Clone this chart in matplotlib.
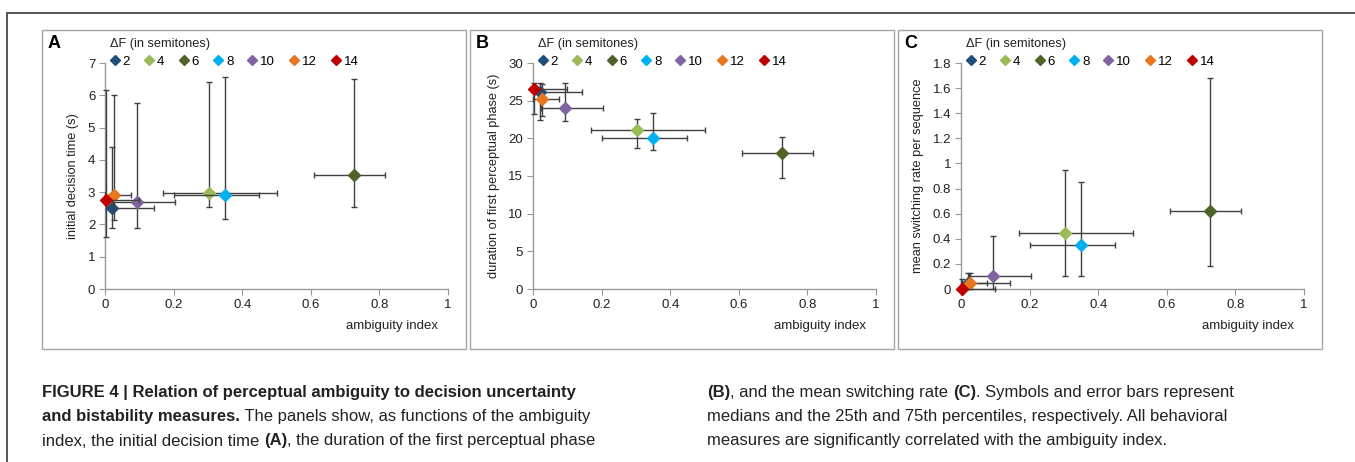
import matplotlib
matplotlib.use("Agg")
import matplotlib.pyplot as plt
from matplotlib import font_manager
from matplotlib.lines import Line2D
from matplotlib.patches import Rectangle

plt.rcParams['font.family'] = ['Liberation Sans', 'DejaVu Sans']

# semitone steps and marker colours
delta_f = ['2', '4', '6', '8', '10', '12', '14']
colors = ['#1F4E79', '#9BBB59', '#4F6228', '#00B0F0', '#8064A2', '#E8761F', '#C00000']

# ambiguity index: median, 25th, 75th percentile
amb_med = [0.021, 0.302, 0.725, 0.350, 0.092, 0.025, 0.004]
amb_lo = [0.003, 0.170, 0.610, 0.200, 0.022, 0.000, 0.000]
amb_hi = [0.142, 0.500, 0.815, 0.450, 0.205, 0.075, 0.098]

# A: initial decision time (s)
dec_med = [2.50, 2.98, 3.52, 2.90, 2.68, 2.92, 2.75]
dec_lo = [1.90, 2.55, 2.53, 2.18, 1.90, 2.15, 1.60]
dec_hi = [4.40, 6.40, 6.50, 6.58, 5.75, 6.00, 6.15]

# B: duration of first perceptual phase (s)
dur_med = [26.2, 21.1, 18.0, 20.1, 24.0, 25.2, 26.5]
dur_lo = [22.5, 18.7, 14.8, 18.4, 22.3, 23.0, 23.2]
dur_hi = [27.4, 22.6, 20.2, 23.4, 27.3, 27.2, 27.4]

# C: mean switching rate per sequence
sw_med = [0.05, 0.45, 0.62, 0.35, 0.10, 0.05, 0.00]
sw_lo = [0.00, 0.10, 0.18, 0.10, 0.00, 0.00, 0.00]
sw_hi = [0.13, 0.95, 1.68, 0.85, 0.42, 0.13, 0.08]

W, H = 1355, 462
fig = plt.figure(figsize=(W / 100, H / 100), dpi=100)


def fx(px):
    return px / W


def fy(py):
    return 1 - py / H


# outer frame lines
fig.add_artist(Line2D([fx(7), 1], [fy(12.5), fy(12.5)], color='#555555', lw=1.4))
fig.add_artist(Line2D([fx(7), fx(7)], [fy(12.5), 0], color='#555555', lw=1.4))

panels = [
    ('A', 42, 466, 105, 'initial decision time (s)', dec_med, dec_lo, dec_hi, 7, 1),
    ('B', 470, 894, 533, 'duration of first perceptual phase (s)', dur_med, dur_lo, dur_hi, 30, 5),
    ('C', 898, 1322, 961, 'mean switching rate per sequence', sw_med, sw_lo, sw_hi, 1.8, 0.2),
]

for letter, bx0, bx1, ax0, ylab, med, lo, hi, ymax, ystep in panels:
    fig.add_artist(Rectangle((fx(bx0), fy(349)), fx(bx1 - bx0), (349 - 30) / H,
                             fill=False, ec='#A6A6A6', lw=1.0))
    fig.text(fx(bx0 + 6), fy(44), letter, fontsize=13, fontweight='bold', va='center')

    ax = fig.add_axes([fx(ax0), fy(289), fx(343), (289 - 63) / H])
    for i in range(len(delta_f)):
        ax.errorbar(amb_med[i], med[i],
                    xerr=[[amb_med[i] - amb_lo[i]], [amb_hi[i] - amb_med[i]]],
                    yerr=[[med[i] - lo[i]], [hi[i] - med[i]]],
                    fmt='D', color=colors[i], ms=6, mec=colors[i],
                    ecolor='#404040', elinewidth=1.0, capsize=2.5, capthick=1.0,
                    clip_on=False, zorder=3 + i)
    ax.set_xlim(0, 1)
    ax.set_ylim(0, ymax)
    ax.set_xticks([0, 0.2, 0.4, 0.6, 0.8, 1])
    ax.set_xticklabels(['0', '0.2', '0.4', '0.6', '0.8', '1'])
    n = int(round(ymax / ystep))
    yt = [round(k * ystep, 2) for k in range(n + 1)]
    ax.set_yticks(yt)
    ax.set_yticklabels(['%g' % v for v in yt])
    for s in ['top', 'right']:
        ax.spines[s].set_visible(False)
    for s in ['left', 'bottom']:
        ax.spines[s].set_color('#999999')
        ax.spines[s].set_linewidth(1.0)
    ax.tick_params(length=4, color='#999999', labelsize=9.5, pad=3, labelcolor='#222222')
    ax.set_ylabel(ylab, fontsize=9.2, color='#222222', labelpad=6)
    ax.text(0.97, -0.165, 'ambiguity index', transform=ax.transAxes, ha='right',
            va='center', fontsize=9.5, color='#222222')

    handles = [Line2D([], [], marker='D', ls='none', color=c, ms=5) for c in colors]
    leg = ax.legend(handles, delta_f, ncol=7, loc='upper left',
                    bbox_to_anchor=(0.015, 1.11), frameon=False,
                    title='\u0394F (in semitones)', title_fontsize=9.2, fontsize=9.5,
                    handlelength=0.7, handletextpad=0.25, columnspacing=1.1,
                    borderpad=0, borderaxespad=0, alignment='left', labelspacing=0.4)
    leg.get_title().set_color('#222222')

# caption font: narrow sans if there is one
cap_family = ['Liberation Sans']
cap_size = 12
try:
    font_manager.findfont('Liberation Sans Narrow', fallback_to_default=False)
    cap_family = ['Liberation Sans Narrow', 'Liberation Sans']
    cap_size = 13.5
except ValueError:
    pass

renderer = fig.canvas.get_renderer()


def rich_line(x_px, y_px, pieces):
    x = fx(x_px)
    for txt, bold in pieces:
        t = fig.text(x, fy(y_px), txt, fontsize=cap_size, va='center', family=cap_family,
                     fontweight='bold' if bold else 'normal', color='#222222')
        bb = t.get_window_extent(renderer)
        x += bb.width / W


rich_line(42, 393, [('FIGURE 4 | Relation of perceptual ambiguity to decision uncertainty', True)])
rich_line(42, 417, [('and bistability measures.', True),
                    (' The panels show, as functions of the ambiguity', False)])
rich_line(42, 441, [('index, the initial decision time ', False), ('(A)', True),
                    (', the duration of the first perceptual phase', False)])
rich_line(707, 393, [('(B)', True), (', and the mean switching rate ', False), ('(C)', True),
                     ('. Symbols and error bars represent', False)])
rich_line(707, 417, [('medians and the 25th and 75th percentiles, respectively. All behavioral', False)])
rich_line(707, 441, [('measures are significantly correlated with the ambiguity index.', False)])

fig.savefig('out.png', dpi=100)
